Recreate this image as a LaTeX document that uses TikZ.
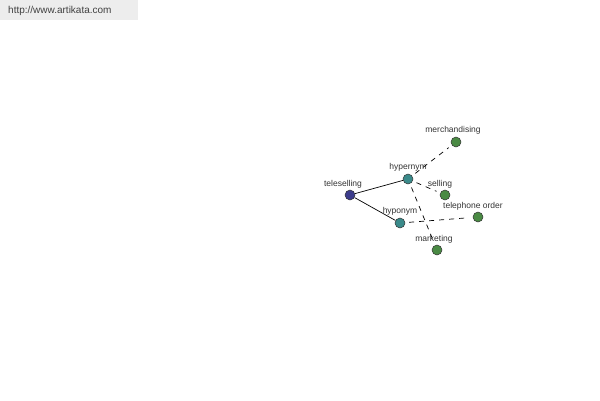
\documentclass[tikz,border=0pt]{standalone}
\usepackage{fontspec}
\setmainfont{Liberation Sans}
\definecolor{rootc}{HTML}{3C3C8C}
\definecolor{midc}{HTML}{3A8A8A}
\definecolor{leafc}{HTML}{4A8A44}
\begin{document}
\begin{tikzpicture}[x=1pt,y=-1pt,
  dot/.style={circle,draw=black!80,line width=0.5pt,inner sep=0pt,minimum size=10pt},
  root/.style={dot,fill=rootc},
  mid/.style={dot,fill=midc},
  leaf/.style={dot,fill=leafc},
  lab/.style={font=\fontsize{8.5}{9}\selectfont,text=black!80,inner sep=0pt},
  solidedge/.style={line width=0.7pt},
  dashedge/.style={dashed,dash pattern=on 5pt off 5pt,line width=0.7pt,shorten <=4pt,shorten >=4pt}]
\useasboundingbox (0,0) rectangle (600,400);
\fill[black!7] (0,0) rectangle (138,20);
\node[font=\fontsize{10}{11}\selectfont,text=black!75,anchor=west,inner sep=0pt] (url) at (8,11) {http://www.artikata.com};
\node[root] (tele) at (350,195) {};
\node[mid] (hyper) at (408,179) {};
\node[mid] (hypo) at (400,223) {};
\node[leaf] (merch) at (456,142) {};
\node[leaf] (sell) at (445,195) {};
\node[leaf] (telord) at (478,217) {};
\node[leaf] (mkt) at (437,250) {};
\node[lab] at (343,184) {teleselling};
\node[lab] at (408,167) {hypernym};
\node[lab] at (400,211) {hyponym};
\node[lab] at (453,130) {merchandising};
\node[lab] at (440,184) {selling};
\node[lab] at (473,206) {telephone order};
\node[lab] at (434,239) {marketing};
\draw[solidedge] (tele) -- (hyper);
\draw[solidedge] (tele) -- (hypo);
\draw[dashedge] (hyper) -- (merch);
\draw[dashedge] (hyper) -- (sell);
\draw[dashedge] (hyper) -- (mkt);
\draw[dashedge] (hypo) -- (telord);
\end{tikzpicture}
\end{document}
